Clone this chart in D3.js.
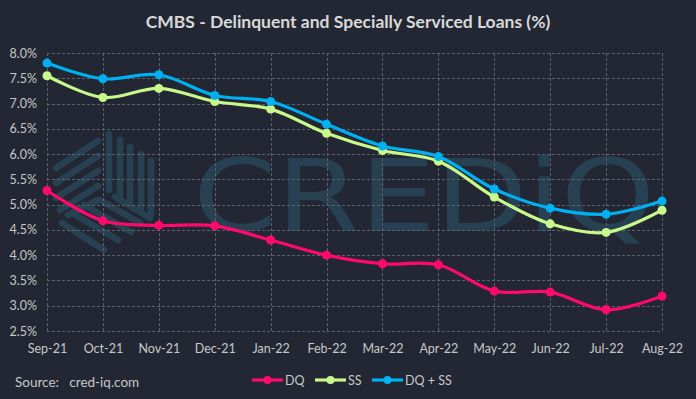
<!DOCTYPE html>
<html><head><meta charset="utf-8">
<script src="https://cdn.jsdelivr.net/npm/d3@7"></script>
<style>
html,body{margin:0;padding:0;background:#222733;}
svg{display:block;}
</style></head>
<body>
<svg id="chart" width="696" height="399"></svg>
<script>
const categories = ["Sep-21","Oct-21","Nov-21","Dec-21","Jan-22","Feb-22","Mar-22","Apr-22","May-22","Jun-22","Jul-22","Aug-22"];
const dq   = [5.28,4.68,4.59,4.58,4.30,4.00,3.83,3.81,3.29,3.27,2.92,3.19];
const ss   = [7.55,7.12,7.30,7.04,6.89,6.41,6.07,5.86,5.15,4.62,4.45,4.89];
const dqss = [7.80,7.49,7.57,7.16,7.04,6.59,6.16,5.95,5.31,4.93,4.81,5.07];
const yTicks = [2.5,3.0,3.5,4.0,4.5,5.0,5.5,6.0,6.5,7.0,7.5,8.0];
const seriesNames = ["DQ","SS","DQ + SS"];
const seriesColors = ["#ff0a6c","#c9f98a","#00b0f0"];

const svg = d3.select("#chart");
const W = 696, H = 399;
const m = {left:47, right:34, top:53, bottom:68};
const x = d3.scalePoint().domain(categories).range([m.left, W - m.right]);
const y = d3.scaleLinear().domain([2.5, 8.0]).range([H - m.bottom, m.top]);
const font = "Lato, 'Open Sans', sans-serif";
const textColor = "#c8c8c8";

svg.append("rect").attr("width",W).attr("height",H).attr("fill","#222733");

// watermark
const wm = svg.append("g").attr("opacity",0.42);
const wmColor = "#2e6680";
const lg = wm.append("g").attr("stroke",wmColor).attr("stroke-width",6.5).attr("stroke-linecap","round");
[[56,168,98,141],[56,183,98,156],[56,198,98,171],[60,210,98,186],[68,215,98,200]].forEach(d=>lg.append("line").attr("x1",d[0]).attr("y1",d[1]).attr("x2",d[2]).attr("y2",d[3]));
[[109,134,190],[120,140,196],[130,147,203],[141,154,208],[151,161,214]].forEach(d=>lg.append("line").attr("x1",d[0]).attr("y1",d[1]).attr("x2",d[0]).attr("y2",d[2]));
[[62,223,104,250],[72,213,118,240],[84,205,131,232],[100,200,140,223],[115,197,150,218]].forEach(d=>lg.append("line").attr("x1",d[0]).attr("y1",d[1]).attr("x2",d[2]).attr("y2",d[3]));
wm.append("text").attr("x",193).attr("y",231)
  .attr("font-family","'DejaVu Sans', sans-serif").attr("font-size",100)
  .attr("textLength",462).attr("lengthAdjust","spacingAndGlyphs")
  .attr("fill",wmColor)
  .text("CREDiQ");

// grid
const grid = svg.append("g").attr("stroke","#5c616b").attr("stroke-width",1).attr("stroke-dasharray","3,2");
yTicks.forEach(t=>grid.append("line").attr("x1",m.left).attr("x2",W-m.right).attr("y1",Math.round(y(t))+0.5).attr("y2",Math.round(y(t))+0.5));
categories.forEach(c=>grid.append("line").attr("x1",Math.round(x(c))+0.5).attr("x2",Math.round(x(c))+0.5).attr("y1",m.top).attr("y2",H-m.bottom));

// axes
const yAxis = svg.append("g").attr("transform",`translate(${m.left},0)`)
  .call(d3.axisLeft(y).tickValues(yTicks).tickFormat(d=>d.toFixed(1)+"%").tickSize(0).tickPadding(10));
yAxis.select(".domain").remove();
yAxis.selectAll("text").attr("fill",textColor).attr("font-family",font).attr("font-size",12.5);

const xAxis = svg.append("g").attr("transform",`translate(0,${H-m.bottom})`)
  .call(d3.axisBottom(x).tickSize(0).tickPadding(13));
xAxis.select(".domain").remove();
xAxis.selectAll("text").attr("fill",textColor).attr("font-family",font).attr("font-size",12.5);

// lines
const allSeries = [dq, ss, dqss];
const line = d3.line().x((d,i)=>x(categories[i])).y(d=>y(d)).curve(d3.curveCatmullRom.alpha(0.5));
allSeries.forEach((s,k)=>{
  const g = svg.append("g");
  g.append("path").datum(s).attr("d",line).attr("fill","none").attr("stroke",seriesColors[k]).attr("stroke-width",3.2).attr("stroke-linejoin","round");
  g.selectAll("circle").data(s).join("circle").attr("cx",(d,i)=>x(categories[i])).attr("cy",d=>y(d)).attr("r",4.5).attr("fill",seriesColors[k]);
});

// title
svg.append("text").attr("x",348).attr("y",28).attr("text-anchor","middle")
  .attr("font-family",font).attr("font-weight","bold").attr("font-size",17.5).attr("fill","#d9d9d9")
  .text("CMBS - Delinquent and Specially Serviced Loans (%)");

// source
svg.append("text").attr("x",15).attr("y",387).attr("font-family",font).attr("font-size",13.5).attr("fill",textColor)
  .attr("xml:space","preserve").text("Source:   cred-iq.com");

// legend
const legX = [252, 315, 372];
seriesNames.forEach((n,k)=>{
  const g = svg.append("g").attr("transform",`translate(${legX[k]},380)`);
  g.append("line").attr("x1",0).attr("x2",31).attr("y1",0).attr("y2",0).attr("stroke",seriesColors[k]).attr("stroke-width",3.2);
  g.append("circle").attr("cx",15.5).attr("cy",0).attr("r",4).attr("fill",seriesColors[k]);
  g.append("text").attr("x",33).attr("y",4.5).attr("font-family",font).attr("font-size",12.5).attr("fill",textColor).text(n);
});
</script>
</body></html>
